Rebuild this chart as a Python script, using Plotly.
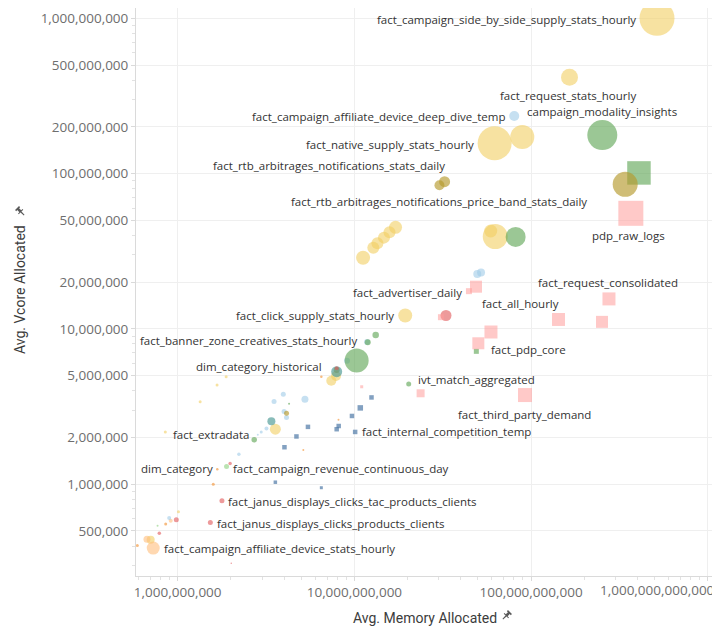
import math
import plotly.graph_objects as go

# ---------------- data ----------------
mark_group = (
    ["yellow"] * 22 + ["lorange"] * 3 + ["orange"] * 8 + ["lblue"] * 15 +
    ["green"] * 8 + ["green_sq"] * 2 + ["lgreen"] * 2 + ["olive"] * 5 +
    ["teal"] * 2 + ["red"] * 8 + ["pink_sq"] * 12 + ["blue_sq"] * 11
)

table_names = [
    # yellow
    "fact_campaign_side_by_side_supply_stats_hourly", "fact_request_stats_hourly",
    "fact_native_supply_stats_hourly", "", "", "", "", "", "", "", "", "",
    "fact_click_supply_stats_hourly", "", "", "", "", "", "", "fact_extradata", "", "",
    # light orange
    "fact_campaign_affiliate_device_stats_hourly", "", "",
    # orange
    "", "", "", "", "dim_category", "", "", "",
    # light blue
    "fact_campaign_affiliate_device_deep_dive_temp", "", "", "", "", "", "", "", "", "", "", "", "", "", "",
    # green circles
    "campaign_modality_insights", "", "", "", "fact_banner_zone_creatives_stats_hourly",
    "ivt_match_aggregated", "", "",
    # green squares
    "", "",
    # light green
    "fact_campaign_revenue_continuous_day", "",
    # olive
    "", "fact_rtb_arbitrages_notifications_stats_daily",
    "fact_rtb_arbitrages_notifications_price_band_stats_daily", "", "",
    # teal
    "dim_category_historical", "",
    # red
    "", "", "", "fact_janus_displays_clicks_tac_products_clients",
    "fact_janus_displays_clicks_products_clients", "", "", "",
    # pink squares
    "pdp_raw_logs", "", "fact_advertiser_daily", "fact_request_consolidated", "",
    "fact_all_hourly", "", "", "fact_pdp_core", "fact_third_party_demand", "", "",
    # blue squares
    "", "", "", "", "", "fact_internal_competition_temp", "", "", "", "", "",
]

memory_allocated = [
    # yellow
    5.16e11, 1.65e11, 6.22e10, 8.92e10, 6.27e10, 5.91e10, 1.71e10, 1.58e10, 1.47e10, 1.35e10, 1.28e10,
    1.12e10, 1.94e10, 7.87e9, 7.40e9, 3.57e9, 1.67e9, 1.88e9, 1.34e9, 8.51e8, 1.01e9, 7.03e8,
    # light orange
    7.27e8, 6.70e8, 9.13e8,
    # orange
    5.91e8, 5.77e8, 8.55e8, 1.59e9, 1.675e9, 6.50e9, 8.13e9, 5.14e9,
    # light blue
    8.03e10, 4.96e10, 5.21e10, 1.18e10, 9.08e9, 3.96e9, 5.25e9, 3.51e9, 4.00e9, 4.13e9, 3.18e9,
    2.97e9, 2.84e9, 2.22e9, 8.95e8,
    # green circles
    2.53e11, 8.18e10, 1.03e10, 1.32e10, 1.19e10, 2.03e10, 2.71e9, 4.27e9,
    # green squares
    4.08e11, 4.90e10,
    # light green
    1.89e9, 7.69e8,
    # olive
    3.41e11, 3.24e10, 3.03e10, 7.94e9, 4.13e9,
    # teal
    7.94e9, 3.39e9,
    # red
    3.30e10, 7.94e9, 1.98e9, 1.78e9, 1.53e9, 9.82e8, 7.87e8, 2.01e9,
    # pink squares
    3.67e11, 4.88e10, 4.45e10, 2.76e11, 3.09e10, 1.43e11, 2.52e11, 5.93e10, 5.03e10, 9.24e10, 2.37e10, 1.10e10,
    # blue squares
    1.25e10, 1.08e10, 9.69e9, 8.15e9, 7.94e9, 1.01e10, 5.46e9, 4.70e9, 4.02e9, 3.57e9, 6.50e9,
]

vcore_allocated = [
    # yellow
    1.0e9, 4.17e8, 1.57e8, 1.72e8, 3.93e7, 4.27e7, 4.51e7, 4.19e7, 3.87e7, 3.56e7, 3.33e7,
    2.87e7, 1.22e7, 4.98e6, 4.64e6, 2.26e6, 4.35e6, 4.92e6, 3.40e6, 2.17e6, 6.65e5, 4.39e5,
    # light orange
    3.88e5, 4.42e5, 5.82e5,
    # orange
    4.03e5, 3.83e5, 5.55e5, 9.99e5, 1.25e6, 4.92e6, 2.60e6, 1.66e6,
    # light blue
    2.35e8, 2.26e7, 2.31e7, 8.24e6, 6.24e6, 3.79e6, 3.52e6, 3.41e6, 2.94e6, 2.69e6, 2.28e6,
    2.17e6, 2.08e6, 1.56e6, 6.06e5,
    # green circles
    1.77e8, 3.91e7, 6.26e6, 9.14e6, 8.20e6, 4.42e6, 1.93e6, 3.30e6,
    # green squares
    1.01e8, 7.17e6,
    # light green
    1.30e6, 5.40e5,
    # olive
    8.53e7, 8.87e7, 8.42e7, 5.43e6, 2.86e6,
    # teal
    5.30e6, 2.54e6,
    # red
    1.22e7, 5.58e6, 1.36e6, 7.83e5, 5.67e5, 5.91e5, 4.83e5, 3.10e5,
    # pink squares
    5.55e7, 1.87e7, 1.75e7, 1.56e7, 1.19e7, 1.15e7, 1.11e7, 9.55e6, 8.08e6, 3.75e6, 3.85e6, 4.24e6,
    # blue squares
    3.62e6, 3.10e6, 2.75e6, 2.37e6, 2.26e6, 2.17e6, 2.34e6, 2.03e6, 1.73e6, 1.03e6, 9.49e5,
]

bubble_size = [
    # yellow
    35, 17, 34, 24, 25, 13, 13, 12, 12, 12, 12, 14, 14, 10, 10, 11, 3, 3, 3, 3, 3, 8,
    # light orange
    13, 7, 4,
    # orange
    3, 2.5, 3, 3, 2.5, 2.5, 2, 2,
    # light blue
    10, 8, 8, 6, 6, 5, 7, 5, 5, 5, 4, 3, 2, 3.5, 4,
    # green circles
    30, 20, 24, 6.5, 6, 5, 5.5, 2,
    # green squares
    23.5, 5,
    # light green
    5, 2,
    # olive
    25, 11, 10, 6, 5,
    # teal
    11, 8,
    # red
    11, 4, 3.5, 5, 5, 5, 3.5, 1.5,
    # pink squares
    25, 12, 6, 13, 6, 13, 12, 13, 12, 14, 8, 3,
    # blue squares
    4.5, 5.5, 4.5, 4.5, 4.5, 4.5, 4.5, 4.5, 4.5, 3.5, 3,
]

y_tick_values = [1e9, 5e8, 2e8, 1e8, 5e7, 2e7, 1e7, 5e6, 2e6, 1e6, 5e5]
x_tick_values = [1e9, 1e10, 1e11, 1e12]
x_title = "Avg. Memory Allocated"
y_title = "Avg. Vcore Allocated"

# ---------------- styles ----------------
GROUP_STYLE = {
    "yellow": ("#F1CE63", "circle", 0.6),
    "lorange": ("#FFBE7D", "circle", 0.6),
    "orange": ("#F28E2B", "circle", 0.6),
    "lblue": ("#A0CBE8", "circle", 0.6),
    "green": ("#59A14F", "circle", 0.6),
    "green_sq": ("#59A14F", "square", 0.6),
    "lgreen": ("#8CD17D", "circle", 0.6),
    "olive": ("#B6992D", "circle", 0.65),
    "teal": ("#499894", "circle", 0.65),
    "red": ("#E15759", "circle", 0.6),
    "pink_sq": ("#FF9D9A", "square", 0.55),
    "blue_sq": ("#4E79A7", "square", 0.7),
}

# label placement: (xanchor, xshift px, yshift px)
LABEL_POS = {
    "fact_campaign_side_by_side_supply_stats_hourly": ("right", -21, -1),
    "fact_request_stats_hourly": ("center", -2, -18),
    "fact_campaign_affiliate_device_deep_dive_temp": ("right", -8, -1),
    "campaign_modality_insights": ("center", 0, 24),
    "fact_native_supply_stats_hourly": ("right", -21, -1),
    "fact_rtb_arbitrages_notifications_stats_daily": ("right", 0, 16),
    "fact_rtb_arbitrages_notifications_price_band_stats_daily": ("center", 0, -16.5),
    "pdp_raw_logs": ("center", -2, -22),
    "fact_advertiser_daily": ("right", -7, -1),
    "fact_request_consolidated": ("center", -1, 16),
    "fact_all_hourly": ("right", 0, 15.5),
    "fact_click_supply_stats_hourly": ("right", -11, 0),
    "fact_banner_zone_creatives_stats_hourly": ("right", -11, 2),
    "fact_pdp_core": ("left", 13, -6),
    "dim_category_historical": ("right", -15, 5),
    "ivt_match_aggregated": ("left", 9, 4),
    "fact_third_party_demand": ("center", -1, -19),
    "fact_internal_competition_temp": ("left", 7, 0),
    "fact_extradata": ("left", 8, -3),
    "dim_category": ("right", -4, 1),
    "fact_campaign_revenue_continuous_day": ("left", 6, -1.5),
    "fact_janus_displays_clicks_tac_products_clients": ("left", 6, -1),
    "fact_janus_displays_clicks_products_clients": ("left", 7, -1.5),
    "fact_campaign_affiliate_device_stats_hourly": ("left", 11, 0),
}

LABEL_FONT = dict(family="Open Sans, DejaVu Sans, sans-serif", size=11.5, color="#333333")
TICK_FONT = dict(family="Open Sans, DejaVu Sans, sans-serif", size=13.5, color="#6E6E6E")
TITLE_FONT = dict(family="Roboto, Open Sans, sans-serif", size=14, color="#3C3C3C")

fig = go.Figure()

for grp, (color, symbol, alpha) in GROUP_STYLE.items():
    idx = [i for i, g in enumerate(mark_group) if g == grp]
    idx.sort(key=lambda i: -bubble_size[i])
    fig.add_trace(go.Scatter(
        x=[memory_allocated[i] for i in idx],
        y=[vcore_allocated[i] for i in idx],
        mode="markers",
        marker=dict(size=[bubble_size[i] for i in idx], symbol=symbol, color=color,
                    opacity=alpha, line=dict(width=0)),
        text=[table_names[i] for i in idx],
        hoverinfo="text+x+y",
        cliponaxis=False,
        showlegend=False,
    ))

annotations = []
for i, name in enumerate(table_names):
    if not name:
        continue
    xa, dx, dy = LABEL_POS[name]
    annotations.append(dict(
        x=math.log10(memory_allocated[i]), y=math.log10(vcore_allocated[i]),
        xref="x", yref="y", text=name, showarrow=False,
        xanchor=xa, yanchor="middle", xshift=dx, yshift=dy,
        font=LABEL_FONT, borderpad=0, borderwidth=0,
    ))

# page geometry: the page body adds an 8px margin around the figure div,
# so the figure is sized to fill the remaining window exactly.
PAGE_OFF = 8
W, H = 720 - PAGE_OFF, 630 - PAGE_OFF
L, R, T, B = 136 - PAGE_OFF, 5, 0, 54
pw, ph = W - L - R, H - T - B


def px_to_paper(px, py):
    fx, fy = px - PAGE_OFF, py - PAGE_OFF
    return (fx - L) / pw, (H - B - fy) / ph


# last x tick label is pulled inside the pane (as Tableau does)
lx, ly = px_to_paper(0, 590)
annotations.append(dict(x=1, y=ly, xref="paper", yref="paper", text=f"{int(x_tick_values[-1]):,}",
                        showarrow=False, xanchor="right", yanchor="middle", xshift=0,
                        font=TICK_FONT, borderpad=0, borderwidth=0))

tx, ty = px_to_paper(424.5, 618)
annotations.append(dict(x=tx, y=ty, xref="paper", yref="paper", text=x_title, showarrow=False,
                        xanchor="center", yanchor="middle", font=TITLE_FONT))
yx, yy = px_to_paper(20, 290)
annotations.append(dict(x=yx, y=yy, xref="paper", yref="paper", text=y_title, showarrow=False,
                        textangle=-90, xanchor="center", yanchor="middle", font=TITLE_FONT))


def pin_path(angle_deg):
    a = math.radians(angle_deg)
    ca, sa = math.cos(a), math.sin(a)
    body = [(0, -3.2), (1, -3.2), (1, -1.3), (4, -1.3), (4, -2.8), (5.6, -2.8),
            (5.6, 2.8), (4, 2.8), (4, 1.3), (1, 1.3), (1, 3.2), (0, 3.2)]
    needle = [(-4.5, -0.45), (0, -0.7), (0, 0.7), (-4.5, 0.45)]

    def poly(pts):
        out = []
        for k, (u, v) in enumerate(pts):
            x = u * ca - v * sa
            y = u * sa + v * ca
            out.append(("M" if k == 0 else "L") + f"{x:.2f},{y:.2f}")
        return " ".join(out) + " Z"
    return poly(body) + " " + poly(needle)


shapes = []
for (ppx, ppy, ang) in [(506, 616, 45), (21, 212, 135)]:
    ax_, ay_ = px_to_paper(ppx, ppy)
    shapes.append(dict(type="path", xref="paper", yref="paper", xsizemode="pixel", ysizemode="pixel",
                       xanchor=ax_, yanchor=ay_, path=pin_path(ang),
                       fillcolor="#5A5A5A", line=dict(width=0)))

minor_x = [k * 10 ** e for e in range(8, 13) for k in range(2, 10)]
minor_y = [k * 10 ** e for e in range(5, 10) for k in range(2, 10)]

axis_common = dict(type="log", showgrid=True, gridcolor="#EFEFEF", gridwidth=1, zeroline=False,
                   showline=True, linecolor="#DADADA", linewidth=1, ticks="outside", ticklen=4,
                   tickcolor="#DADADA", tickfont=TICK_FONT)

# y range: pane top sits at page y=8 (figure top), 1e9 gridline at page y=18.3
y_top = 9 + (18.3 - PAGE_OFF) / 155.3

fig.update_layout(
    width=W, height=H,
    margin=dict(l=L, r=R, t=T, b=B),
    paper_bgcolor="white", plot_bgcolor="white",
    showlegend=False,
    xaxis=dict(range=[8.764, 12.041], tickmode="array", tickvals=x_tick_values,
               ticktext=[f"{int(v):,}" for v in x_tick_values[:-1]] + [""],
               minor=dict(tickmode="array", tickvals=minor_x, ticks="outside", ticklen=3,
                          tickcolor="#E2E2E2", showgrid=False),
               **axis_common),
    yaxis=dict(range=[5.4089, y_top], tickmode="array", tickvals=y_tick_values,
               ticktext=[f"{int(v):,}" for v in y_tick_values],
               minor=dict(tickmode="array", tickvals=minor_y, ticks="outside", ticklen=3,
                          tickcolor="#E2E2E2", showgrid=False),
               **axis_common),
    annotations=annotations,
    shapes=shapes,
)

fig.write_html("out.html")
